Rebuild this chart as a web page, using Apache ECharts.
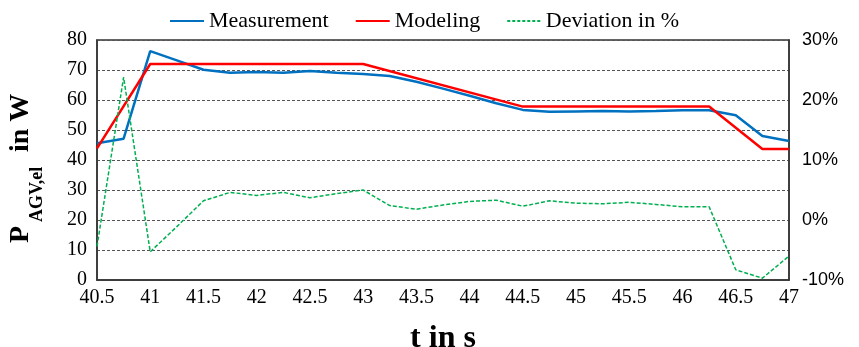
<!DOCTYPE html>
<html>
<head>
<meta charset="utf-8">
<script src="https://cdn.jsdelivr.net/npm/echarts@6/dist/echarts.min.js"></script>
<style>
  html, body { margin: 0; padding: 0; background: #fff; }
  #chart { width: 859px; height: 347px; }
</style>
</head>
<body>
<div id="chart"></div>
<script>
// Time stamps of the measured / deviation samples (s)
var times = [40.5, 40.75, 41, 41.25, 41.5, 41.75, 42, 42.25, 42.5, 42.75, 43, 43.25, 43.5,
             43.75, 44, 44.25, 44.5, 44.75, 45, 45.25, 45.5, 45.75, 46, 46.25, 46.5, 46.75, 47];
// Measured electrical power (W)
var measurement = [45.6, 47.1, 76.3, 73.2, 70.1, 69.1, 69.3, 69.1, 69.7, 69.1, 68.7, 68.0, 66.1,
                   63.8, 61.4, 58.9, 56.7, 56.1, 56.2, 56.3, 56.2, 56.3, 56.6, 56.6, 54.9, 48.0, 46.3];
// Modelled power: breakpoints of the piecewise-linear model (s, W)
var modelTimes = [40.5, 41, 43, 44.5, 46.25, 46.75, 47];
var modelValues = [43.9, 72.0, 72.0, 57.8, 57.8, 43.7, 43.7];
// Deviation between model and measurement (%)
var deviation = [-4.4, 23.8, -5.3, -1.1, 3.2, 4.6, 4.1, 4.6, 3.7, 4.4, 5.0, 2.4, 1.8,
                 2.5, 3.1, 3.3, 2.3, 3.2, 2.8, 2.7, 2.95, 2.6, 2.2, 2.2, -8.3, -9.7, -6.0];

function pairs(xs, ys) {
  return xs.map(function (x, i) { return [x, ys[i]]; });
}

var serif = 'Liberation Serif';
var BLUE = '#0070C0', RED = '#FF0000', GREEN = '#00B050';
// short-dash legend glyph for the deviation series
var dashIcon = 'path://M0,0h3v2h-3z M5,0h3v2h-3z M10,0h3v2h-3z M15,0h3v2h-3z M20,0h3v2h-3z M25,0h3v2h-3z M30,0h3v2h-3z';

var chart = echarts.init(document.getElementById('chart'), null, { renderer: 'canvas' });

chart.setOption({
  animation: false,
  backgroundColor: '#fff',
  textStyle: { fontFamily: serif, color: '#000' },
  legend: {
    top: 10,
    left: 170,
    padding: 0,
    itemWidth: 34,
    itemHeight: 2,
    itemGap: 27,
    textStyle: { fontFamily: serif, fontSize: 22, color: '#000' },
    data: [
      { name: 'Measurement', icon: 'rect' },
      { name: 'Modeling', icon: 'rect' },
      { name: 'Deviation in %', icon: dashIcon }
    ]
  },
  grid: {
    left: 97, right: 70, top: 40, bottom: 67,
    containLabel: false,
    outerBoundsMode: 'none',
    show: true, borderColor: '#333', borderWidth: 1.5, backgroundColor: 'transparent'
  },
  xAxis: {
    type: 'value',
    min: 40.5, max: 47, interval: 0.5,
    axisLine: { show: true, lineStyle: { color: '#333', width: 1.5 } },
    axisTick: { show: false },
    splitLine: { show: false },
    axisLabel: { fontFamily: serif, fontSize: 20, color: '#000', margin: 8 },
    name: 't in s',
    nameLocation: 'middle',
    nameGap: 43,
    nameTextStyle: { fontFamily: serif, fontSize: 32, fontWeight: 'bold', color: '#000' }
  },
  yAxis: [{
    type: 'value',
    min: 0, max: 80, interval: 10,
    axisLine: { show: true, lineStyle: { color: '#333', width: 1.5 } },
    axisTick: { show: false },
    splitLine: { show: true, lineStyle: { color: '#555', width: 1, type: [3, 2] } },
    axisLabel: { fontFamily: serif, fontSize: 20, color: '#000', margin: 10 }
  }, {
    type: 'value',
    min: -10, max: 30, interval: 10,
    position: 'right',
    axisLine: { show: true, lineStyle: { color: '#333', width: 1.5 } },
    axisTick: { show: false },
    splitLine: { show: false },
    axisLabel: {
      fontFamily: 'Liberation Sans', fontSize: 18, color: '#000', margin: 13,
      formatter: '{value}%'
    }
  }],
  // Vertical axis title P_AGV,el in W, read bottom to top
  graphic: [{
    type: 'group',
    x: 0, y: 0,
    rotation: Math.PI / 2,
    children: [{
      type: 'text', x: -243, y: 21,
      style: { text: 'P', font: 'bold 28px "Liberation Serif"', fill: '#000', align: 'left', verticalAlign: 'middle' }
    }, {
      type: 'text', x: -222, y: 37,
      style: { text: 'AGV,el', font: 'bold 18px "Liberation Serif"', fill: '#000', align: 'left', verticalAlign: 'middle' }
    }, {
      type: 'text', x: -152, y: 21,
      style: { text: 'in W', font: 'bold 28px "Liberation Serif"', fill: '#000', align: 'left', verticalAlign: 'middle' }
    }]
  }],
  series: [{
    name: 'Measurement',
    type: 'line',
    yAxisIndex: 0,
    data: pairs(times, measurement),
    symbol: 'none',
    lineStyle: { color: BLUE, width: 2.5 },
    itemStyle: { color: BLUE },
    z: 3
  }, {
    name: 'Modeling',
    type: 'line',
    yAxisIndex: 0,
    data: pairs(modelTimes, modelValues),
    symbol: 'none',
    lineStyle: { color: RED, width: 2.5 },
    itemStyle: { color: RED },
    z: 4
  }, {
    name: 'Deviation in %',
    type: 'line',
    yAxisIndex: 1,
    data: pairs(times, deviation),
    symbol: 'none',
    lineStyle: { color: GREEN, width: 1.5, type: [4, 2] },
    itemStyle: { color: GREEN },
    z: 5
  }]
});
</script>
</body>
</html>
